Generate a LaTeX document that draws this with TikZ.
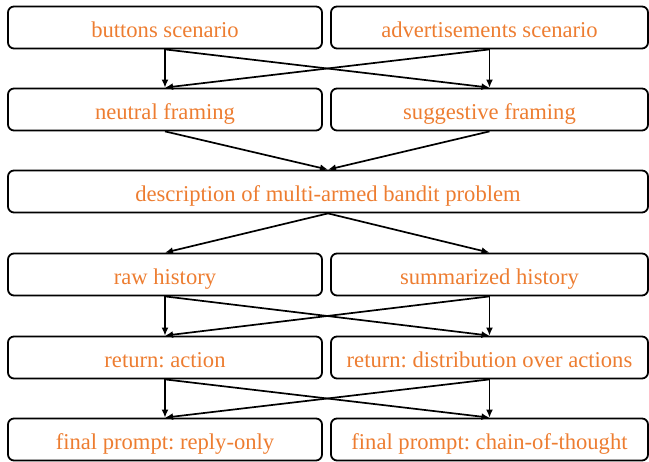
\documentclass[tikz,border=0pt]{standalone}
\usepackage{fontspec}
\setmainfont{Liberation Serif}
\usetikzlibrary{arrows.meta}
\definecolor{txtorange}{HTML}{ED7D31}
\frenchspacing
\begin{document}
\begin{tikzpicture}[x=1pt,y=-1pt,
  box/.style={draw=black,line width=1.8pt,rounded corners=6pt,inner sep=0pt,
    font=\fontsize{22.6}{25}\selectfont,text=txtorange,text height=20pt,text depth=0pt,
    minimum height=42pt},
  lbox/.style={box,minimum width=314pt},
  rbox/.style={box,minimum width=317pt},
  conn/.style={line width=1.7pt,-{Latex[length=8pt,width=7pt]}}]
\useasboundingbox (0,0) rectangle (649,462);
\node[lbox] (b1l) at (165,27.5) {buttons scenario};
\node[rbox] (b1r) at (489.5,27.5) {advertisements scenario};
\node[lbox] (b2l) at (165,109.5) {neutral framing};
\node[rbox] (b2r) at (489.5,109.5) {suggestive framing};
\node[box,minimum width=640pt] (b3) at (328,191.5) {description of multi-armed bandit problem};
\node[lbox] (b4l) at (165,274.5) {raw history};
\node[rbox] (b4r) at (489.5,274.5) {summarized history};
\node[lbox] (b5l) at (165,357.5) {return: action};
\node[rbox] (b5r) at (489.5,357.5) {return: distribution over actions};
\node[lbox] (b6l) at (165,439.5) {final prompt: reply-only};
\node[rbox] (b6r) at (489.5,439.5) {final prompt: chain-of-thought};
\draw[conn] (b1l.south) -- (b2l.north);
\draw[conn] (b1l.south) -- (b2r.north);
\draw[conn] (b1r.south) -- (b2l.north);
\draw[conn] (b1r.south) -- (b2r.north);
\draw[conn] (b2l.south) -- (b3.north);
\draw[conn] (b2r.south) -- (b3.north);
\draw[conn] (b3.south) -- (b4l.north);
\draw[conn] (b3.south) -- (b4r.north);
\draw[conn] (b4l.south) -- (b5l.north);
\draw[conn] (b4l.south) -- (b5r.north);
\draw[conn] (b4r.south) -- (b5l.north);
\draw[conn] (b4r.south) -- (b5r.north);
\draw[conn] (b5l.south) -- (b6l.north);
\draw[conn] (b5l.south) -- (b6r.north);
\draw[conn] (b5r.south) -- (b6l.north);
\draw[conn] (b5r.south) -- (b6r.north);
\end{tikzpicture}
\end{document}
